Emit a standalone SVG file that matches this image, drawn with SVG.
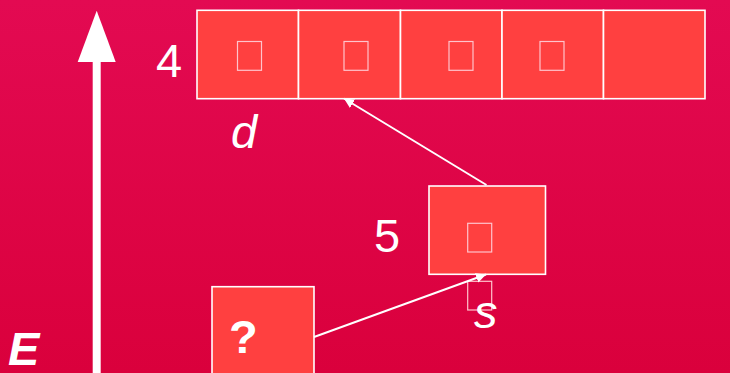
<svg xmlns="http://www.w3.org/2000/svg" width="730" height="373" viewBox="0 0 730 373">
<defs>
<linearGradient id="bg" x1="0" y1="0" x2="0" y2="1">
<stop offset="0" stop-color="#E30A52"/>
<stop offset="1" stop-color="#DA003C"/>
</linearGradient>
<marker id="ah" viewBox="0 0 10 10" refX="10" refY="5" markerWidth="10" markerHeight="10" markerUnits="userSpaceOnUse" orient="auto">
<path d="M0,0 L10,5 L0,10 z" fill="#FFFFFF"/>
</marker>
<style>
.box{fill:#FF4040;stroke:#FFFFFF;stroke-width:1.6}
.tofu{fill:none;stroke:#FFC4CC;stroke-width:1.2}
.lbl{font-family:"Liberation Sans",Arial,sans-serif;font-size:47px;fill:#FFFFFF}
.it{font-style:italic}
.bd{font-weight:bold}
.conn{stroke:#FFFFFF;stroke-width:2;fill:none}
</style>
</defs>
<rect x="0" y="0" width="730" height="373" fill="url(#bg)"/>

<g id="axis">
<rect x="92.7" y="58" width="8" height="320" fill="#FFFFFF"/>
<polygon points="96.7,10.7 77.7,62 115.7,62" fill="#FFFFFF"/>
<text class="lbl it bd" x="8" y="365">E</text>
</g>

<g id="row4">
<rect class="box" x="197" y="10.3" width="101.5" height="88.4"/>
<rect class="box" x="298.5" y="10.3" width="102" height="88.4"/>
<rect class="box" x="400.5" y="10.3" width="101.5" height="88.4"/>
<rect class="box" x="502" y="10.3" width="101.5" height="88.4"/>
<rect class="box" x="603.5" y="10.3" width="101.5" height="88.4"/>
<rect class="tofu" x="237.5" y="41.5" width="24" height="28.8"/>
<rect class="tofu" x="344" y="41.5" width="24" height="28.8"/>
<rect class="tofu" x="449" y="41.5" width="24" height="28.8"/>
<rect class="tofu" x="540" y="41.5" width="24" height="28.8"/>
<text class="lbl" x="156" y="77">4</text>
<text class="lbl it" x="231" y="148">d</text>
</g>

<g id="box5">
<rect class="box" x="429" y="186" width="116.5" height="88.3"/>
<rect class="tofu" x="467.7" y="223.3" width="24" height="28.7"/>
<text class="lbl" x="374" y="252">5</text>
<rect class="tofu" x="467.7" y="281.3" width="24" height="28.7"/>
<text class="lbl it" x="474" y="328">s</text>
</g>

<g id="unknown">
<rect class="box" x="212" y="286.7" width="102" height="100"/>
<text class="lbl bd" x="229" y="353">?</text>
</g>

<g id="connectors">
<line class="conn" x1="486.5" y1="185" x2="344" y2="98.5" marker-end="url(#ah)"/>
<line class="conn" x1="314" y1="337" x2="486" y2="274.5" marker-end="url(#ah)"/>
</g>
</svg>
